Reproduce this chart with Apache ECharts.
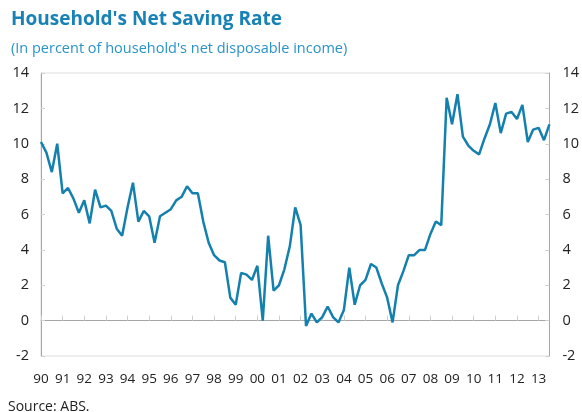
<!DOCTYPE html>
<html>
<head>
<meta charset="utf-8">
<script src="https://cdn.jsdelivr.net/npm/echarts@6/dist/echarts.min.js"></script>
<style>
html,body{margin:0;padding:0;background:#fff;}
#chart{width:582px;height:412px;}
</style>
</head>
<body>
<div id="chart"></div>
<script>
// Year labels (one per year, quarterly data)
const years = ['90','91','92','93','94','95','96','97','98','99','00','01','02','03','04','05','06','07','08','09','10','11','12','13'];
const quarters = ['Q1','Q2','Q3','Q4'];
// Household net saving rate, quarterly 1990Q1 - 2013Q3 (percent)
const savingRate = [
  10.1, 9.5, 8.4, 10.0,
  7.2, 7.5, 6.9, 6.1,
  6.8, 5.5, 7.4, 6.4,
  6.5, 6.2, 5.2, 4.8,
  6.4, 7.8, 5.6, 6.2,
  5.9, 4.4, 5.9, 6.1,
  6.3, 6.8, 7.0, 7.6,
  7.2, 7.2, 5.6, 4.4,
  3.7, 3.4, 3.3, 1.3,
  0.9, 2.7, 2.6, 2.3,
  3.1, 0.0, 4.8, 1.7,
  2.0, 2.9, 4.2, 6.4,
  5.4, -0.3, 0.4, -0.1,
  0.2, 0.8, 0.2, -0.1,
  0.6, 3.0, 0.9, 2.0,
  2.3, 3.2, 3.0, 2.1,
  1.3, -0.1, 2.0, 2.8,
  3.7, 3.7, 4.0, 4.0,
  4.9, 5.6, 5.4, 12.6,
  11.1, 12.8, 10.4, 9.9,
  9.6, 9.4, 10.3, 11.1,
  12.3, 10.6, 11.7, 11.8,
  11.4, 12.2, 10.1, 10.8,
  10.9, 10.2, 11.1
];
// Value axis ticks
const yMin = -2, yMax = 14, yStep = 2;

const categories = [];
years.forEach(y => quarters.forEach(q => categories.push(y + q)));
const cats = categories.slice(0, savingRate.length);

const FONT = 'Open Sans';
const chart = echarts.init(document.getElementById('chart'), null, {renderer: 'canvas'});
chart.setOption({
  animation: false,
  backgroundColor: '#ffffff',
  textStyle: {fontFamily: FONT},
  title: [
    {text: "Household's Net Saving Rate", left: 6, top: 5,
     textStyle: {fontFamily: FONT, fontSize: 19, fontWeight: 'bold', color: '#1881b5'}},
    {text: "(In percent of household's net disposable income)", left: 6, top: 36,
     textStyle: {fontFamily: FONT, fontSize: 14.5, fontWeight: 'normal', color: '#2a93c8'}},
    {text: 'Source: ABS.', left: 3, top: 395,
     textStyle: {fontFamily: FONT, fontSize: 14, fontWeight: 'normal', color: '#222'}}
  ],
  grid: {left: 41, right: 32, top: 73, bottom: 56, show: true, borderColor: '#dcdcdc', borderWidth: 1},
  xAxis: [
    {
      type: 'category', data: cats, boundaryGap: false, position: 'bottom',
      axisLine: {show: true, onZero: true, lineStyle: {color: '#a6a6a6', width: 1}},
      axisTick: {show: true, inside: true, length: 5, interval: (i) => i % 4 === 0, lineStyle: {color: '#cfcfcf'}},
      axisLabel: {show: false},
      splitLine: {show: false}
    },
    {
      type: 'category', data: cats, boundaryGap: false, position: 'bottom',
      axisLine: {show: false, onZero: false},
      axisTick: {show: false},
      axisLabel: {show: true, interval: (i) => i % 4 === 0, margin: 16,
        formatter: (v) => v.slice(0, 2), fontFamily: FONT, fontSize: 13.5, color: '#222'},
      splitLine: {show: false}
    }
  ],
  yAxis: [
    {
      type: 'value', min: yMin, max: yMax, interval: yStep, position: 'left',
      axisLine: {show: true, lineStyle: {color: '#a6a6a6'}},
      axisTick: {show: true, inside: true, length: 4, lineStyle: {color: '#d0d0d0'}},
      axisLabel: {margin: 12, fontFamily: FONT, fontSize: 14.5, color: '#222'},
      splitLine: {show: false}
    },
    {
      type: 'value', min: yMin, max: yMax, interval: yStep, position: 'right',
      axisLine: {show: true, lineStyle: {color: '#a6a6a6'}},
      axisTick: {show: true, inside: true, length: 4, lineStyle: {color: '#d0d0d0'}},
      axisLabel: {margin: 13, fontFamily: FONT, fontSize: 14.5, color: '#222'},
      splitLine: {show: false}
    }
  ],
  series: [{
    type: 'line', data: savingRate, xAxisIndex: 0, yAxisIndex: 0,
    showSymbol: false, smooth: false,
    lineStyle: {color: '#1480ae', width: 2.5}
  }]
});
</script>
</body>
</html>
